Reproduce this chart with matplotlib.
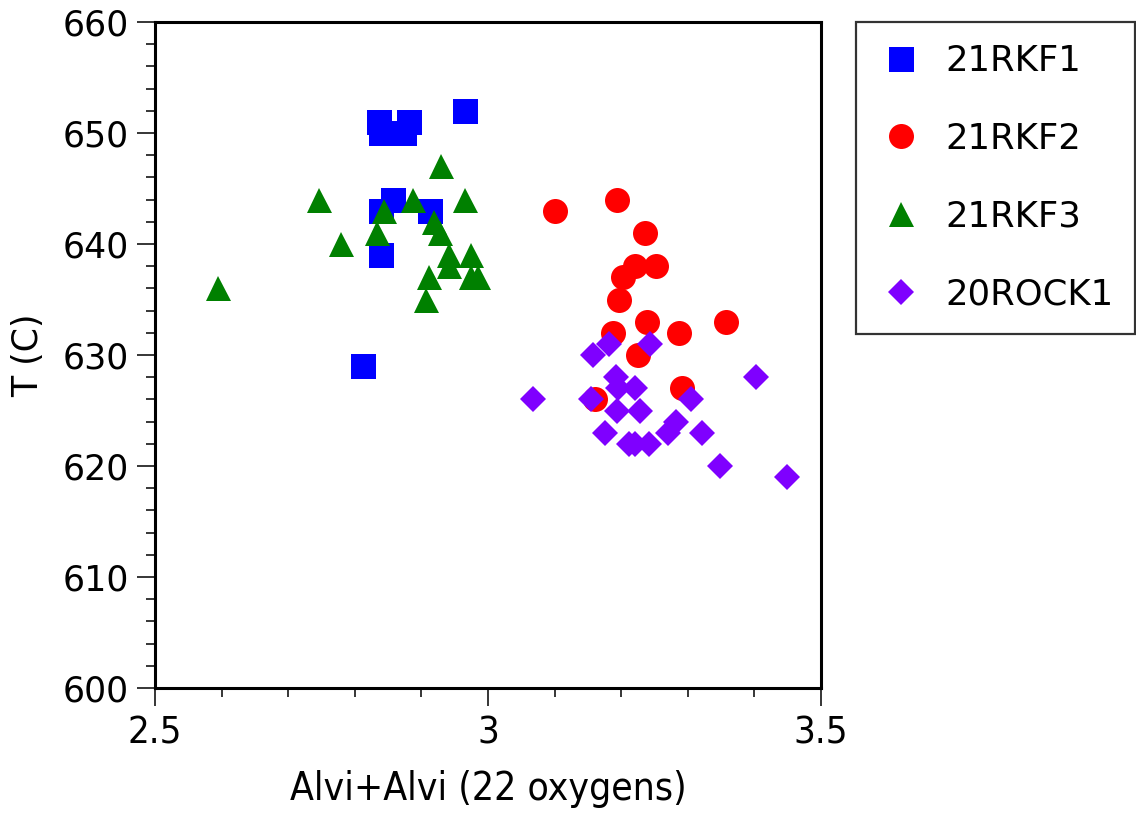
import matplotlib
matplotlib.use("Agg")
import matplotlib.pyplot as plt
from matplotlib.ticker import MultipleLocator, FixedLocator

# ---- data ----
rkf1_x = [2.966, 2.837, 2.881, 2.839, 2.874, 2.857, 2.839, 2.913, 2.840, 2.812]
rkf1_y = [652, 651, 651, 650, 650, 644, 643, 643, 639, 629]

rkf2_x = [3.101, 3.193, 3.236, 3.221, 3.253, 3.203, 3.196, 3.239, 3.358,
          3.187, 3.287, 3.225, 3.291, 3.160]
rkf2_y = [643, 644, 641, 638, 638, 637, 635, 633, 633, 632, 632, 630, 627, 626]

rkf3_x = [2.929, 2.746, 2.888, 2.965, 2.844, 2.919, 2.928, 2.834, 2.779,
          2.941, 2.975, 2.941, 2.975, 2.985, 2.912, 2.907, 2.594]
rkf3_y = [647, 644, 644, 644, 643, 642, 641, 641, 640, 639, 639, 638, 637,
          637, 637, 635, 636]

rock_x = [3.067, 3.158, 3.182, 3.243, 3.192, 3.195, 3.220, 3.154, 3.305,
          3.194, 3.228, 3.282, 3.271, 3.176, 3.321, 3.211, 3.220, 3.242,
          3.348, 3.403, 3.449]
rock_y = [626, 630, 631, 631, 628, 627, 627, 626, 626, 625, 625, 624, 623,
          623, 623, 622, 622, 622, 620, 628, 619]

labels = ["21RKF1", "21RKF2", "21RKF3", "20ROCK1"]
x_ticks = [2.5, 3.0, 3.5]
x_tick_labels = ["2.5", "3", "3.5"]
y_ticks = [600, 610, 620, 630, 640, 650, 660]

# ---- figure ----
W, H = 1136, 813
fig = plt.figure(figsize=(W / 100, H / 100), dpi=100)
ax = fig.add_axes([155 / W, 1 - 688 / H, (821 - 155) / W, (688 - 22) / H])

ax.plot(rkf1_x, rkf1_y, ls="none", marker="s", ms=18, mew=0, color="#0000ff", label=labels[0])
ax.plot(rkf2_x, rkf2_y, ls="none", marker="o", ms=18, mew=0, color="#ff0000", label=labels[1])
ax.plot(rkf3_x, rkf3_y, ls="none", marker="^", ms=18, mew=0, color="#008000", label=labels[2])
ax.plot(rock_x, rock_y, ls="none", marker="D", ms=12.8, mew=0, color="#7f00ff", label=labels[3])

ax.set_xlim(2.5, 3.5)
ax.set_ylim(600, 660)

for s in ax.spines.values():
    s.set_linewidth(2.2)

ax.xaxis.set_major_locator(FixedLocator(x_ticks))
ax.set_xticklabels(x_tick_labels)
ax.xaxis.set_minor_locator(MultipleLocator(0.1))
ax.yaxis.set_major_locator(FixedLocator(y_ticks))
ax.yaxis.set_minor_locator(MultipleLocator(2))

ax.tick_params(which="major", direction="out", length=13, width=1.1,
               top=False, right=False)
ax.tick_params(which="minor", direction="out", length=6.5, width=1.1,
               top=False, right=False)
ax.tick_params(axis="y", which="major", labelsize=25, pad=6)
ax.tick_params(axis="x", which="major", pad=7)

for t in ax.get_xticklabels():
    t.set_fontsize(27.5)
    t.set_fontstretch("condensed")

ax.set_xlabel("Alvi+Alvi (22 oxygens)", fontsize=28, fontstretch="condensed", labelpad=13)
ax.set_ylabel("T (C)", fontsize=25, labelpad=12)

leg = fig.legend(loc="upper left", bbox_to_anchor=(856 / W, 1 - 22 / H),
                 bbox_transform=fig.transFigure, fontsize=25.5, frameon=True,
                 fancybox=False, edgecolor="black", borderpad=0.62,
                 labelspacing=1.24, handlelength=1.32, handletextpad=0.58,
                 borderaxespad=0)
leg.get_frame().set_linewidth(1.6)

fig.savefig("out.png", dpi=100)
